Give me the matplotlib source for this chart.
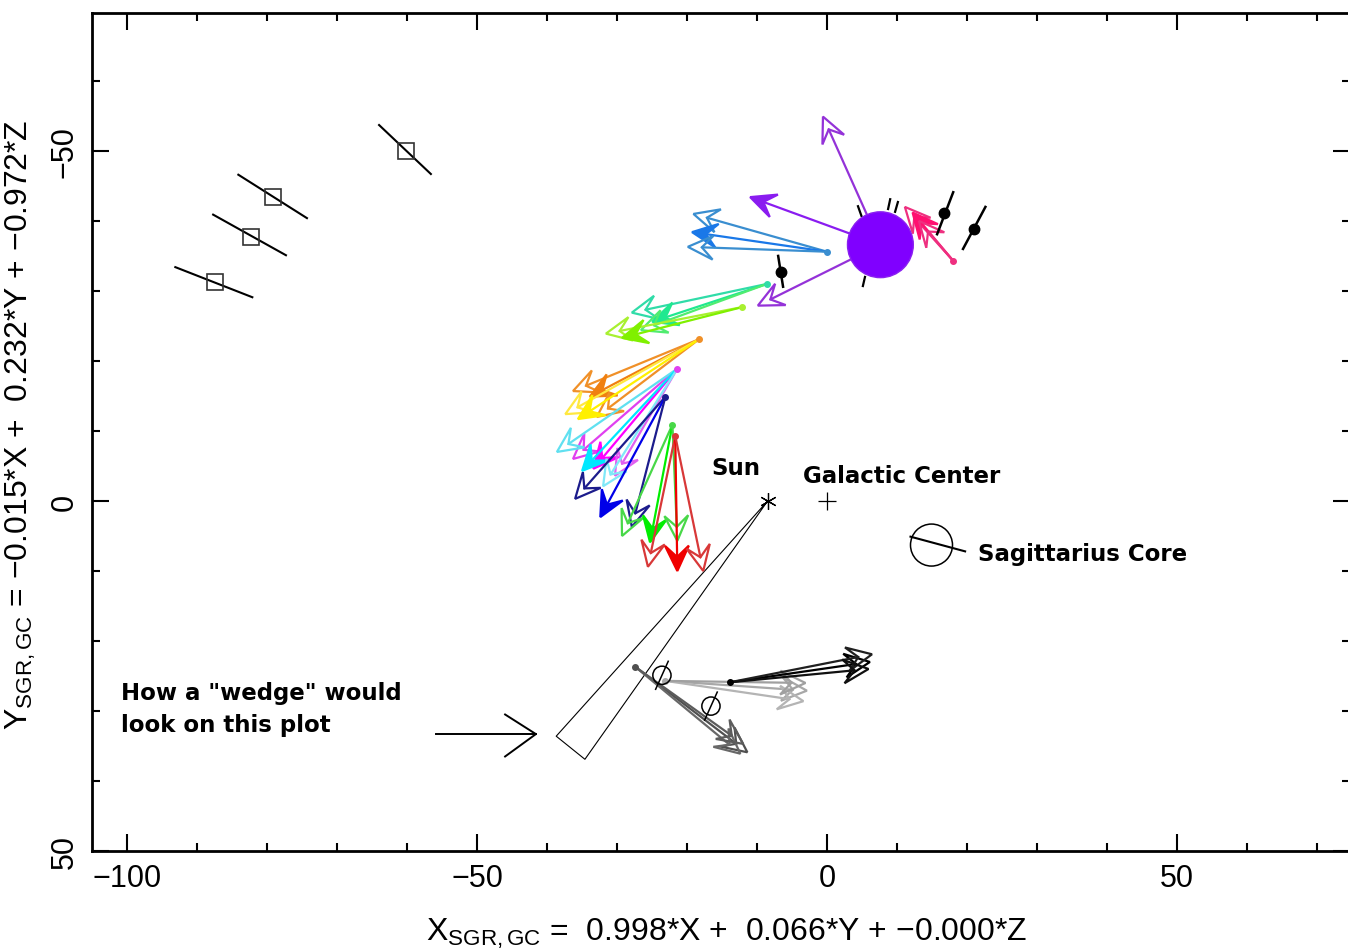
import numpy as np
import matplotlib
matplotlib.use('Agg')
import matplotlib.pyplot as plt
from matplotlib.patches import Circle, Polygon

plt.rcParams['font.family'] = ['Liberation Sans', 'DejaVu Sans']
plt.rcParams['mathtext.fontset'] = 'custom'
plt.rcParams['mathtext.rm'] = 'Liberation Sans'
plt.rcParams['mathtext.it'] = 'Liberation Sans'

# ---- data (SGR,GC coordinates in kpc) ----
sun = (-8.5, 0.0)
galactic_center = (0.0, 0.0)
sgr_core = (14.9, 6.3)
sgr_core_bar = [(11.9, 19.7), (5.1, 7.2)]

# open squares with their error lines
sq_x = [-87.4, -82.3, -79.1, -60.1]
sq_y = [-31.3, -37.7, -43.4, -50.0]
sq_bar_x = [(-93.1, -82.1), (-87.7, -77.3), (-84.1, -74.3), (-64.0, -56.6)]
sq_bar_y = [(-33.4, -29.1), (-40.9, -35.1), (-46.6, -40.4), (-53.7, -46.7)]

# black dots with error lines
dot_x = [16.7, 20.9, -6.6]
dot_y = [-41.1, -38.9, -32.7]
dot_bar_x = [(15.7, 18.0), (19.4, 22.6), (-7.0, -6.3)]
dot_bar_y = [(-38.1, -44.1), (-36.0, -42.0), (-35.0, -30.6)]

# big purple blob and the short black lines poking out of it
blob = (7.6, -36.6)
blob_r = 4.7
blob_ticks_x = [(4.4, 4.9), (9.0, 8.7), (10.1, 9.7), (5.4, 5.1)]
blob_ticks_y = [(-42.1, -40.7), (-43.1, -41.7), (-42.7, -41.3), (-32.0, -30.7)]

# arrow groups: tail, tips, colours, filled heads
purple_tail = blob
purple_tip_x = [-0.6, -11.0, -9.9]
purple_tip_y = [-54.9, -43.4, -27.9]
purple_col = ['#9432d8', '#8a1cf0', '#9432d8']
purple_fill = [False, True, False]

pink_tail = (18.0, -34.3)
pink_tip_x = [11.1, 12.2, 13.1]
pink_tip_y = [-42.0, -41.2, -40.0]
pink_col = ['#ee3080', '#ff1070', '#ee3080']
pink_fill = [False, True, False]

blue_tail = (0.0, -35.6)
blue_tip_x = [-19.1, -19.3, -19.9]
blue_tip_y = [-41.0, -38.4, -36.3]
blue_col = ['#3a8ed0', '#1a78e8', '#3a8ed0']
blue_fill = [False, True, False]

teal_tail = (-8.6, -31.0)
teal_tip_x = [-27.9, -25.0, -26.6]
teal_tip_y = [-26.9, -25.6, -24.4]
teal_col = ['#30dca8', '#20e890', '#50ec70']
teal_fill = [False, True, False]

lime_tail = (-12.1, -27.7)
lime_tip_x = [-31.6, -29.3]
lime_tip_y = [-23.9, -23.3]
lime_col = ['#a8f030', '#80f000']
lime_fill = [False, True]

orange_tail = (-18.3, -23.1)
orange_tip_x = [-36.3, -33.9, -32.9, -37.4, -35.6]
orange_tip_y = [-15.7, -14.9, -12.0, -12.4, -11.7]
orange_col = ['#f09028', '#f08010', '#f09028', '#ffe840', '#fff000']
orange_fill = [False, True, False, False, True]

magenta_tail = (-21.4, -18.9)
magenta_tip_x = [-36.3, -33.4, -30.3, -38.6, -35.0, -32.0]
magenta_tip_y = [-6.0, -4.6, -3.6, -7.0, -4.3, -2.1]
magenta_col = ['#e040f0', '#ff00ff', '#e060f0', '#60e0f0', '#00e8ff', '#80e8f8']
magenta_fill = [False, True, False, False, True, False]

navy_tail = (-23.1, -14.9)
navy_tip_x = [-36.0, -32.4, -27.9]
navy_tip_y = [-0.3, 2.3, 3.7]
navy_col = ['#1c1c8c', '#0000e8', '#1c1c8c']
navy_fill = [False, True, False]

green_tail = (-22.1, -10.9)
green_tip_x = [-29.3, -25.3, -21.4]
green_tip_y = [5.0, 5.9, 5.7]
green_col = ['#48d848', '#00ee00', '#48d848']
green_fill = [False, True, False]

red_tail = (-21.7, -9.3)
red_tip_x = [-25.6, -21.4, -17.7]
red_tip_y = [9.4, 10.0, 10.0]
red_col = ['#d83838', '#f00000', '#d83838']
red_fill = [False, True, False]

dgray_tail = (-27.4, 23.7)
dgray_tip_x = [-11.4, -12.4, -12.0]
dgray_tip_y = [35.9, 36.1, 34.7]
dgray_col = ['#505050', '#686868', '#5c5c5c']
dgray_fill = [False, False, False]

lgray_tail = (-23.1, 25.7)
lgray_tip_x = [-2.9, -3.4, -3.1]
lgray_tip_y = [27.1, 28.6, 26.0]
lgray_col = ['#a8a8a8', '#b4b4b4', '#a0a0a0']
lgray_fill = [False, False, False]

black_tail = (-13.9, 25.9)
black_tip_x = [6.1, 6.4, 5.9]
black_tip_y = [23.0, 21.9, 24.0]
black_col = ['#000000', '#202020', '#101010']
black_fill = [False, False, False]

null_x = [-23.6, -16.6]
null_y = [24.9, 29.3]

# the "wedge" seen from the Sun
wedge_x = [-38.7, -34.6]
wedge_y = [33.6, 36.9]
hint_arrow_x = (-55.9, -41.6)
hint_arrow_y = (33.3, 33.3)

groups = [
    (purple_tail, purple_tip_x, purple_tip_y, purple_col, purple_fill),
    (pink_tail, pink_tip_x, pink_tip_y, pink_col, pink_fill),
    (blue_tail, blue_tip_x, blue_tip_y, blue_col, blue_fill),
    (teal_tail, teal_tip_x, teal_tip_y, teal_col, teal_fill),
    (lime_tail, lime_tip_x, lime_tip_y, lime_col, lime_fill),
    (orange_tail, orange_tip_x, orange_tip_y, orange_col, orange_fill),
    (magenta_tail, magenta_tip_x, magenta_tip_y, magenta_col, magenta_fill),
    (navy_tail, navy_tip_x, navy_tip_y, navy_col, navy_fill),
    (green_tail, green_tip_x, green_tip_y, green_col, green_fill),
    (red_tail, red_tip_x, red_tip_y, red_col, red_fill),
    (dgray_tail, dgray_tip_x, dgray_tip_y, dgray_col, dgray_fill),
    (lgray_tail, lgray_tip_x, lgray_tip_y, lgray_col, lgray_fill),
    (black_tail, black_tip_x, black_tip_y, black_col, black_fill),
]


def draw_arrow(ax, x0, y0, x1, y1, color, filled, lw=1.6, L=3.6, W=1.7, N=2.0):
    d = np.array([x1 - x0, y1 - y0], dtype=float)
    d /= np.hypot(d[0], d[1])
    n = np.array([-d[1], d[0]])
    tip = np.array([x1, y1])
    notch = tip - N * d
    pts = [tip, tip - L * d + W * n, notch, tip - L * d - W * n]
    ax.plot([x0, notch[0]], [y0, notch[1]], color=color, lw=lw, solid_capstyle='round', zorder=3)
    ax.add_patch(Polygon(pts, closed=True, facecolor=color if filled else 'none',
                         edgecolor=color, lw=lw, joinstyle='miter', zorder=3))


fig = plt.figure(figsize=(13.48, 9.53), dpi=100)
ax = fig.add_axes([92 / 1348, 101 / 953, 1257.5 / 1348, 838 / 953])

for tail, tx, ty, cols, fills in groups:
    for x1, y1, c, f in zip(tx, ty, cols, fills):
        draw_arrow(ax, tail[0], tail[1], x1, y1, c, f)
    ax.plot(tail[0], tail[1], 'o', ms=4, color=cols[0], zorder=4)

# purple blob on top of its arrows
ax.add_patch(Circle(blob, blob_r, facecolor='#8000ff', edgecolor='#8a20f0', lw=1, zorder=5))
for bx, by in zip(blob_ticks_x, blob_ticks_y):
    ax.plot(bx, by, color='black', lw=1.6, zorder=4)

for bx, by in zip(sq_bar_x, sq_bar_y):
    ax.plot(bx, by, color='black', lw=1.5)
ax.plot(sq_x, sq_y, 's', ms=11, mfc='none', mec='#333333', mew=1.2, ls='none')

for bx, by in zip(dot_bar_x, dot_bar_y):
    ax.plot(bx, by, color='black', lw=1.8, zorder=6)
ax.plot(dot_x, dot_y, 'o', ms=7.5, color='black', ls='none', zorder=6)

for nx, ny in zip(null_x, null_y):
    ax.add_patch(Circle((nx, ny), 1.3, facecolor='none', edgecolor='black', lw=1.1, zorder=6))
    ax.plot([nx + 0.9, nx - 0.9], [ny - 2.0, ny + 2.0], color='black', lw=1.1, zorder=6)

# sun, galactic centre, sagittarius core
ax.plot(*sun, marker=(6, 2, 0), ms=12, mew=0.9, color='black')
ax.plot(*galactic_center, marker='+', ms=13, mew=0.9, color='black')
ax.add_patch(Circle(sgr_core, 3.0, facecolor='none', edgecolor='black', lw=1.1))
ax.plot(*sgr_core_bar, color='black', lw=1.5)

# wedge
ax.plot([sun[0], wedge_x[0], wedge_x[1], sun[0]], [sun[1], wedge_y[0], wedge_y[1], sun[1]],
        color='black', lw=0.8)
ax.plot(hint_arrow_x, hint_arrow_y, color='black', lw=1.4)
hx, hy = hint_arrow_x[1], hint_arrow_y[1]
ax.plot([hx - 4.4, hx, hx - 4.4], [hy - 2.8, hy, hy + 3.2], color='black', lw=1.4)

lab = dict(family='DejaVu Sans', fontweight='bold', fontsize=16.5, color='black')
ax.text(-13.1, -4.8, 'Sun', ha='center', va='center', **lab)
ax.text(-3.5, -3.7, 'Galactic Center', ha='left', va='center', **lab)
ax.text(21.6, 7.5, 'Sagittarius Core', ha='left', va='center', **lab)
ax.text(-100.9, 27.3, 'How a "wedge" would', ha='left', va='center', **lab)
ax.text(-100.9, 32.0, 'look on this plot', ha='left', va='center', **lab)

ax.set_xlim(-105, 74.6)
ax.set_ylim(50, -69.7)
ax.set_xticks([-100, -50, 0, 50])
ax.set_xticks(np.arange(-100, 71, 10), minor=True)
ax.set_yticks([-50, 0, 50])
ax.set_yticks(np.arange(-60, 51, 10), minor=True)
ax.tick_params(which='both', direction='in', top=True, right=True, width=1.5, labelsize=22)
ax.tick_params(which='major', length=12)
ax.tick_params(which='minor', length=6)
ax.tick_params(axis='x', pad=9)
ax.tick_params(axis='y', pad=9)
for t in ax.get_yticklabels():
    t.set_rotation(90)
    t.set_va('center')
for s in ax.spines.values():
    s.set_linewidth(2)

ax.set_xlabel(r'X$_{\mathrm{SGR,GC}}$ =  0.998$*$X +  0.066$*$Y + $-$0.000$*$Z',
              fontsize=23, labelpad=16, x=0.505)
ax.set_ylabel(r'Y$_{\mathrm{SGR,GC}}$ = $-$0.015$*$X +  0.232$*$Y + $-$0.972$*$Z',
              fontsize=23, labelpad=8, y=0.51)

fig.savefig('out.png', dpi=100)
